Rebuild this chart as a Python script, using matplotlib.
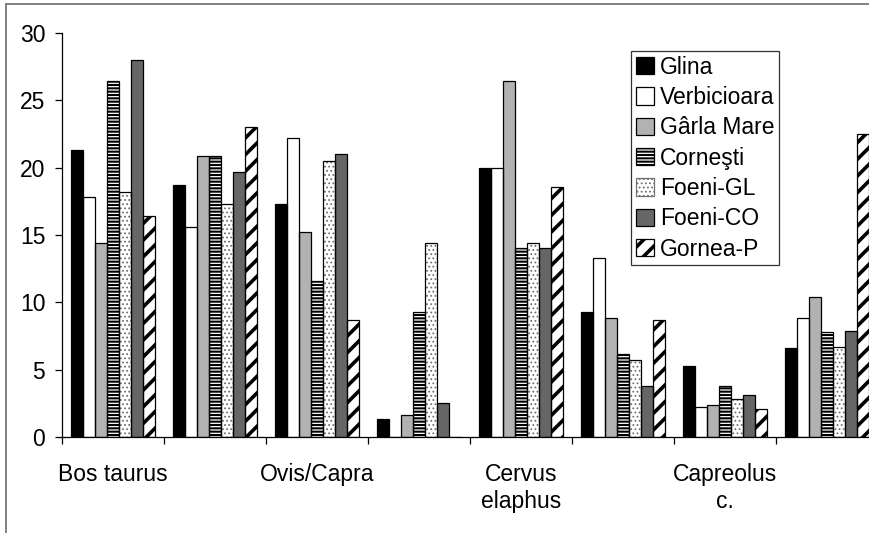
import numpy as np
import matplotlib
matplotlib.use('Agg')
import matplotlib.pyplot as plt
from matplotlib.patches import Rectangle

plt.rcParams['font.family'] = ['Liberation Sans', 'DejaVu Sans']

# groups (Excel only labelled every other one)
categories = ['Bos taurus', '', 'Ovis/Capra', '', 'Cervus\nelaphus', '', 'Capreolus\nc.', '']
sites = ['Glina', 'Verbicioara', 'Gârla Mare', 'Corneşti', 'Foeni-GL', 'Foeni-CO', 'Gornea-P']

glina       = [21.3, 18.7, 17.3, 1.3, 20.0, 9.3, 5.3, 6.6]
verbicioara = [17.8, 15.6, 22.2, 0.0, 20.0, 13.3, 2.2, 8.8]
garla_mare  = [14.4, 20.9, 15.2, 1.6, 26.4, 8.8, 2.4, 10.4]
cornesti    = [26.4, 20.9, 11.6, 9.3, 14.0, 6.2, 3.8, 7.8]
foeni_gl    = [18.2, 17.3, 20.5, 14.4, 14.4, 5.7, 2.8, 6.7]
foeni_co    = [28.0, 19.7, 21.0, 2.5, 14.0, 3.8, 3.1, 7.9]
gornea_p    = [16.4, 23.0, 8.7, 0.0, 18.6, 8.7, 2.1, 22.5]
series = [glina, verbicioara, garla_mare, cornesti, foeni_gl, foeni_co, gornea_p]

# (face, hatch, hatch colour, hatch width)
styles = [
    ('black', None, 'black', 1.0),
    ('white', None, 'black', 1.0),
    ('#b2b2b2', None, 'black', 1.0),
    ('white', '-----', 'black', 1.5),
    ('white', '....', '#707070', 0.8),
    ('#666666', None, 'black', 1.0),
    ('white', '//', 'black', 2.6),
]
FS = 16.5

fig = plt.figure(figsize=(8.7, 5.33), dpi=100)
ax = fig.add_axes([62 / 870, 1 - 437 / 533, 816 / 870, 404 / 533])

x = np.arange(len(categories))
w = 0.118
for i, (vals, (fc, hatch, hc, hlw)) in enumerate(zip(series, styles)):
    pos = x + (i - 3) * w
    with plt.rc_context({'hatch.linewidth': hlw}):
        bars = ax.bar(pos, vals, w, color=fc, edgecolor=hc, linewidth=0,
                      hatch=hatch, zorder=2)
    for b in bars:
        if hasattr(b, 'set_hatch_linewidth'):
            b.set_hatch_linewidth(hlw)
    ax.bar(pos, vals, w, fill=False, edgecolor='black', linewidth=0.9, zorder=3)

handles = [Rectangle((0, 0), 1, 1, facecolor=fc, edgecolor=hc if hatch else 'black',
                     hatch=hatch, linewidth=0.9) for fc, hatch, hc, hlw in styles]

leg = ax.legend(handles, sites, loc='upper left', bbox_to_anchor=(569 / 816, 1 - 18 / 404),
                fontsize=FS, frameon=True, fancybox=False, borderpad=0.2,
                handlelength=0.8, handleheight=0.8, handletextpad=0.25,
                labelspacing=0.32, borderaxespad=0)
leg.get_frame().set_edgecolor('black')
leg.get_frame().set_linewidth(0.9)
for p, st in zip(leg.get_patches(), styles):
    if hasattr(p, 'set_hatch_linewidth'):
        p.set_hatch_linewidth(st[3])

ax.set_xlim(-0.5, len(categories) - 0.5)
ax.set_ylim(0, 30)
ax.set_yticks([0, 5, 10, 15, 20, 25, 30])
ax.tick_params(axis='y', direction='out', length=5, width=0.9, labelsize=FS, pad=7)
ax.set_xticks(x)
ax.set_xticklabels(categories)
ax.set_xticks(np.arange(len(categories) + 1) - 0.5, minor=True)
ax.tick_params(axis='x', which='major', length=0, labelsize=FS, pad=19)
ax.tick_params(axis='x', which='minor', direction='out', length=5, width=0.9)
for s in ['top', 'right']:
    ax.spines[s].set_visible(False)
for s in ['left', 'bottom']:
    ax.spines[s].set_linewidth(0.9)

# outer chart border (gray)
fig.patches.append(Rectangle((6 / 870, -0.05), 1.2, 1 - 4 / 533 + 0.05, transform=fig.transFigure,
                             fill=False, edgecolor='#808080', linewidth=1.4))

fig.savefig('out.png', dpi=100)
